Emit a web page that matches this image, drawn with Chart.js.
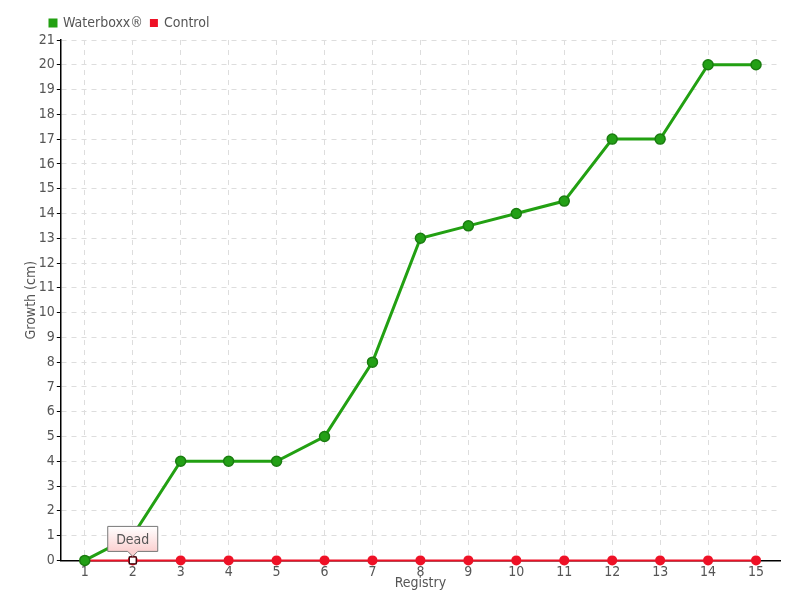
<!DOCTYPE html>
<html>
<head>
<meta charset="utf-8">
<script src="https://cdn.jsdelivr.net/npm/chart.js"></script>
<style>
  html, body { margin: 0; padding: 0; background: #fff; }
  #wrap { width: 800px; height: 600px; }
</style>
</head>
<body>
<div id="wrap"><canvas id="grafico" width="800" height="600"></canvas></div>
<script>
const registros = ['1','2','3','4','5','6','7','8','9','10','11','12','13','14','15'];
const waterboxx = [0, 1, 4, 4, 4, 5, 8, 13, 13.5, 14, 14.5, 17, 17, 20, 20];
const control = [0, 0, 0, 0, 0, 0, 0, 0, 0, 0, 0, 0, 0, 0, 0];
const notaIndice = 1;
const notaTexto = 'Dead';

const FUENTE = "'DejaVu Sans Condensed', 'Liberation Sans Narrow', 'DejaVu Sans', sans-serif";
Chart.defaults.font.family = FUENTE;
Chart.defaults.color = '#555';

// mover la leyenda un poco a la derecha
const leyendaPlugin = {
  id: 'leyendaCorrida',
  afterLayout(chart) {
    const l = chart.legend;
    if (!l) return;
    l.left += 26;
    l.right += 26;
  }
};

const notaPlugin = {
  id: 'nota',
  afterDatasetsDraw(chart) {
    const meta = chart.getDatasetMeta(1);
    const p = meta.data[notaIndice];
    if (!p) return;
    const ctx = chart.ctx;
    ctx.save();
    // marcador blanco
    ctx.fillStyle = '#fff';
    ctx.strokeStyle = '#000';
    ctx.lineWidth = 1;
    ctx.fillRect(p.x - 3, p.y - 3, 6, 6);
    ctx.strokeRect(p.x - 3.5, p.y - 3.5, 7, 7);
    // caja
    const w = 50, h = 25, top = p.y - 34;
    const left = p.x - w / 2;
    const grad = ctx.createLinearGradient(0, top, 0, top + h);
    grad.addColorStop(0, '#ffffff');
    grad.addColorStop(1, '#fbd0d0');
    ctx.beginPath();
    ctx.moveTo(left, top);
    ctx.lineTo(left + w, top);
    ctx.lineTo(left + w, top + h);
    ctx.lineTo(p.x + 5, top + h);
    ctx.lineTo(p.x, top + h + 5);
    ctx.lineTo(p.x - 5, top + h);
    ctx.lineTo(left, top + h);
    ctx.closePath();
    ctx.fillStyle = grad;
    ctx.fill();
    ctx.strokeStyle = '#777';
    ctx.stroke();
    ctx.fillStyle = '#555';
    ctx.font = '14px ' + FUENTE;
    ctx.textAlign = 'center';
    ctx.textBaseline = 'middle';
    ctx.fillText(notaTexto, p.x, top + h / 2 + 1);
    ctx.restore();
  }
};

new Chart(document.getElementById('grafico').getContext('2d'), {
  type: 'line',
  data: {
    labels: registros,
    datasets: [
      {
        label: 'Waterboxx®', data: waterboxx, clip: false,
        borderColor: '#22a012', backgroundColor: '#22a012',
        borderWidth: 3, pointRadius: 5, pointBorderColor: '#1a7d10',
        pointBackgroundColor: '#23a016', pointBorderWidth: 1.5, tension: 0
      },
      {
        label: 'Control', data: control, clip: false,
        borderColor: '#ee1126', backgroundColor: '#ee1126',
        borderWidth: 2, pointRadius: 5, pointBorderWidth: 0,
        pointBackgroundColor: '#ee1126', tension: 0
      }
    ]
  },
  options: {
    responsive: false,
    animation: false,
    layout: { padding: { left: 16, right: 20, top: 8, bottom: 2 } },
    plugins: {
      legend: {
        position: 'top', align: 'start',
        labels: { boxWidth: 6, boxHeight: 6, padding: 8, font: { size: 14 }, color: '#555' }
      },
      tooltip: { enabled: false }
    },
    scales: {
      x: {
        offset: true,
        title: { display: true, text: 'Registry', font: { size: 14 }, color: '#555', padding: { top: -6, bottom: 6 } },
        grid: { offset: false, color: '#ddd', tickColor: '#777', tickLength: 4 },
        border: { color: '#000', width: 1.5, dash: [5, 5] },
        ticks: { font: { size: 14 }, color: '#555', padding: 0 }
      },
      y: {
        min: 0, max: 21,
        title: { display: true, text: 'Growth (cm)', font: { size: 14 }, color: '#555', padding: { top: 7, bottom: -3 } },
        grid: { color: '#ddd', tickColor: '#000', tickLength: 4 },
        border: { color: '#000', width: 1.5, dash: [5, 5] },
        ticks: { stepSize: 1, font: { size: 14 }, color: '#555', padding: 2 }
      }
    }
  },
  plugins: [notaPlugin, leyendaPlugin]
});
</script>
</body>
</html>
